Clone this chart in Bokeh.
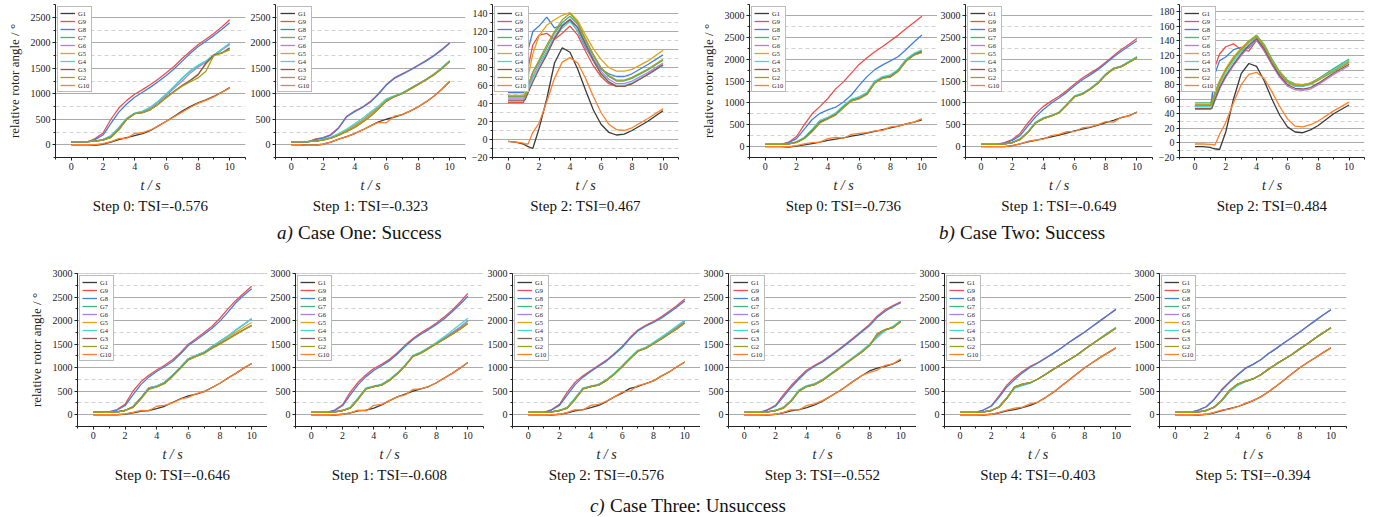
from bokeh.plotting import figure
from bokeh.layouts import row, column
from bokeh.models import SingleIntervalTicker, Legend, LegendItem, Title, Label, Range1d
from bokeh.embed import file_html
from bokeh.resources import INLINE

FONT = "Liberation Serif"

# ---------------- data ----------------
SERIES = ["G1", "G9", "G8", "G7", "G6", "G5", "G4", "G3", "G2", "G10"]
COLORS = ["#3a3a3a", "#f04c4c", "#3f7fe0", "#3cb878", "#b27ce8",
          "#e3a21a", "#42d9d0", "#8b5a4f", "#a0a020", "#ff7f2a"]

T = [0, 0.5, 1, 1.5, 2, 2.5, 3, 3.5, 4, 4.5, 5, 5.5, 6, 6.5, 7, 7.5, 8, 8.5, 9, 9.5, 10]
T_OSC = [0, 0.5, 1.0, 1.1, 1.3, 1.6, 2.0, 2.5, 3.0, 3.5, 4.0, 4.5, 5.0, 5.5, 6.0, 6.5, 7.0, 7.5, 8.0, 9.0, 10.0]

# Case One, Step 0
A0_G1 = [0, 0, 0, -10, 10, 50, 100, 140, 180, 220, 280, 370, 460, 560, 660, 750, 820, 880, 950, 1030, 1120]
A0_G9 = [50, 50, 50, 120, 230, 500, 720, 870, 990, 1080, 1180, 1290, 1410, 1540, 1690, 1830, 1960, 2070, 2180, 2310, 2450]
A0_G8 = [50, 50, 50, 100, 190, 420, 640, 800, 930, 1030, 1130, 1240, 1360, 1490, 1640, 1790, 1920, 2030, 2140, 2260, 2390]
A0_G7 = [60, 60, 60, 70, 100, 170, 330, 510, 610, 650, 730, 850, 990, 1140, 1300, 1440, 1550, 1640, 1760, 1870, 1980]
A0_G6 = [60, 60, 60, 70, 100, 170, 330, 510, 610, 650, 720, 840, 970, 1110, 1250, 1400, 1520, 1620, 1740, 1860, 1960]
A0_G5 = [60, 60, 60, 70, 90, 150, 300, 500, 610, 630, 690, 800, 930, 1050, 1160, 1260, 1380, 1580, 1750, 1790, 1880]
A0_G4 = [60, 60, 60, 70, 100, 180, 340, 520, 620, 660, 740, 860, 1000, 1150, 1310, 1450, 1560, 1640, 1760, 1870, 1990]
A0_G3 = [60, 60, 60, 70, 90, 150, 300, 500, 610, 630, 690, 800, 930, 1050, 1160, 1260, 1370, 1600, 1760, 1800, 1900]
A0_G2 = [60, 60, 60, 70, 90, 140, 290, 500, 610, 630, 690, 800, 920, 1040, 1150, 1230, 1310, 1440, 1750, 1800, 1860]
A0_G10 = [0, 0, 0, 0, 20, 60, 120, 130, 220, 240, 290, 370, 460, 550, 640, 730, 810, 870, 940, 1030, 1110]

# Case One, Step 1
A1_G1 = [0, 0, -10, -10, 10, 50, 110, 160, 220, 290, 370, 450, 500, 540, 590, 660, 740, 840, 950, 1090, 1240]
A1_G9 = [50, 50, 50, 110, 140, 200, 340, 560, 660, 740, 850, 1000, 1180, 1310, 1390, 1470, 1560, 1650, 1750, 1870, 2000]
A1_G8 = [50, 50, 50, 100, 130, 190, 330, 550, 650, 730, 840, 990, 1170, 1300, 1380, 1460, 1550, 1640, 1740, 1860, 1990]
A1_G7 = [60, 60, 60, 70, 100, 140, 200, 290, 380, 480, 610, 730, 880, 950, 1010, 1100, 1190, 1280, 1380, 1500, 1640]
A1_G6 = [60, 60, 60, 70, 100, 140, 200, 290, 380, 480, 610, 730, 880, 950, 1010, 1100, 1190, 1280, 1380, 1500, 1640]
A1_G5 = [60, 60, 60, 70, 100, 140, 200, 280, 370, 470, 600, 720, 870, 950, 1010, 1100, 1190, 1280, 1380, 1500, 1640]
A1_G4 = [60, 60, 60, 70, 100, 150, 220, 310, 410, 520, 640, 760, 900, 960, 1020, 1100, 1190, 1280, 1380, 1510, 1650]
A1_G3 = [60, 60, 60, 70, 90, 130, 190, 260, 340, 440, 560, 700, 850, 940, 1000, 1090, 1180, 1270, 1370, 1490, 1630]
A1_G2 = [60, 60, 60, 70, 90, 130, 190, 260, 340, 440, 560, 700, 860, 950, 1000, 1090, 1180, 1270, 1370, 1490, 1630]
A1_G10 = [0, 0, -10, -10, 10, 50, 110, 160, 220, 290, 370, 440, 430, 560, 590, 660, 740, 840, 950, 1090, 1250]

# Case One, Step 2 (sampled on T_OSC)
A2_G1 = [-2, -3, -5, -6, -8, -10, 12, 45, 85, 102, 97, 78, 55, 33, 17, 8, 5, 6, 10, 20, 32]
A2_G9 = [41, 41, 41, 48, 80, 105, 116, 118, 111, 118, 126, 116, 98, 82, 70, 62, 59, 59, 62, 72, 83]
A2_G8 = [52, 52, 52, 60, 100, 120, 126, 136, 124, 127, 133, 120, 102, 88, 78, 73, 70, 70, 73, 83, 94]
A2_G7 = [48, 48, 48, 49, 60, 74, 86, 102, 118, 130, 137, 128, 110, 93, 79, 70, 65, 65, 68, 77, 88]
A2_G6 = [45, 45, 45, 46, 56, 70, 83, 98, 114, 127, 134, 125, 107, 90, 76, 67, 62, 62, 65, 74, 85]
A2_G5 = [49, 49, 49, 52, 70, 95, 115, 127, 133, 138, 141, 132, 116, 101, 89, 80, 76, 76, 78, 87, 99]
A2_G4 = [44, 44, 44, 45, 55, 68, 80, 96, 112, 124, 131, 121, 104, 87, 73, 64, 60, 60, 63, 72, 82]
A2_G3 = [43, 43, 43, 44, 52, 64, 78, 94, 112, 126, 133, 124, 106, 88, 73, 64, 59, 59, 62, 72, 83]
A2_G2 = [47, 47, 47, 48, 60, 75, 88, 105, 120, 133, 140, 130, 112, 95, 80, 71, 66, 66, 69, 78, 89]
A2_G10 = [-2, -3, -4, -5, -5, 8, 18, 42, 68, 86, 91, 85, 68, 48, 30, 17, 11, 10, 13, 23, 34]

# Case Two, Step 0
B0_G1 = [0, 0, 0, -10, 10, 40, 70, 100, 140, 170, 200, 240, 270, 310, 350, 390, 430, 470, 520, 560, 610]
B0_G9 = [50, 50, 50, 100, 230, 500, 750, 920, 1100, 1320, 1480, 1680, 1880, 2030, 2170, 2290, 2420, 2550, 2700, 2840, 2980]
B0_G8 = [50, 50, 50, 90, 180, 400, 620, 760, 840, 900, 1020, 1180, 1400, 1600, 1760, 1870, 1960, 2060, 2220, 2390, 2550]
B0_G7 = [50, 50, 50, 60, 100, 200, 390, 590, 660, 760, 930, 1070, 1130, 1230, 1490, 1590, 1630, 1760, 1990, 2120, 2190]
B0_G6 = [50, 50, 50, 60, 100, 200, 380, 580, 650, 750, 920, 1060, 1115, 1215, 1480, 1580, 1615, 1750, 1980, 2100, 2160]
B0_G5 = [50, 50, 50, 60, 100, 190, 370, 570, 640, 740, 910, 1050, 1110, 1210, 1470, 1570, 1600, 1740, 1970, 2100, 2160]
B0_G4 = [50, 50, 50, 60, 110, 210, 400, 600, 670, 770, 940, 1080, 1140, 1240, 1500, 1600, 1640, 1770, 2000, 2130, 2210]
B0_G3 = [50, 50, 50, 60, 100, 190, 360, 560, 640, 730, 900, 1050, 1100, 1200, 1460, 1570, 1600, 1730, 1960, 2100, 2170]
B0_G2 = [50, 50, 50, 60, 90, 180, 340, 540, 630, 720, 890, 1040, 1090, 1190, 1450, 1560, 1590, 1720, 1950, 2090, 2150]
B0_G10 = [0, 0, 0, 0, 20, 60, 90, 100, 180, 210, 190, 280, 300, 320, 360, 370, 450, 470, 520, 560, 640]

# Case Two, Step 1
B1_G1 = [0, 0, 0, 0, 20, 60, 110, 140, 180, 220, 260, 310, 360, 400, 440, 490, 550, 600, 660, 710, 790]
B1_G9 = [50, 50, 50, 90, 160, 300, 540, 750, 920, 1040, 1150, 1280, 1430, 1570, 1680, 1790, 1930, 2080, 2220, 2340, 2470]
B1_G8 = [50, 50, 50, 80, 140, 250, 470, 680, 850, 990, 1110, 1240, 1390, 1530, 1640, 1760, 1900, 2050, 2180, 2300, 2420]
B1_G7 = [50, 50, 50, 60, 90, 170, 330, 550, 650, 700, 780, 960, 1150, 1210, 1320, 1460, 1650, 1790, 1840, 1940, 2050]
B1_G4 = [50, 50, 50, 60, 90, 180, 340, 560, 660, 710, 790, 970, 1160, 1220, 1330, 1470, 1660, 1790, 1840, 1950, 2060]
B1_G2 = [50, 50, 50, 60, 90, 160, 320, 540, 640, 700, 770, 950, 1140, 1200, 1310, 1450, 1640, 1780, 1830, 1930, 2030]
B1_G6 = B1_G7
B1_G5 = B1_G2
B1_G3 = B1_G2
B1_G10 = [0, 0, 0, 0, 20, 60, 120, 150, 170, 250, 280, 340, 340, 430, 450, 500, 570, 560, 670, 700, 790]

# Case Two, Step 2 (sampled on T_OSC)
B2_G1 = [-5, -5, -6, -7, -8, -9, 15, 60, 95, 109, 105, 85, 60, 38, 22, 15, 14, 18, 24, 40, 52]
B2_G9 = [52, 52, 52, 60, 105, 122, 132, 136, 128, 126, 141, 126, 108, 93, 83, 78, 78, 82, 88, 100, 112]
B2_G8 = [50, 50, 50, 60, 95, 113, 118, 128, 131, 130, 143, 127, 109, 94, 84, 79, 78, 81, 87, 100, 113]
B2_G7 = [55, 55, 55, 56, 70, 85, 100, 115, 128, 140, 148, 135, 115, 98, 86, 81, 80, 82, 88, 102, 115]
B2_G6 = [46, 46, 46, 47, 58, 74, 90, 106, 120, 132, 141, 127, 107, 90, 78, 73, 72, 74, 80, 94, 106]
B2_G5 = [53, 53, 53, 54, 68, 85, 102, 118, 130, 140, 147, 133, 113, 97, 85, 80, 80, 82, 87, 100, 112]
B2_G4 = [50, 50, 50, 51, 64, 80, 96, 112, 125, 137, 145, 131, 112, 95, 83, 78, 78, 80, 86, 100, 114]
B2_G3 = [47, 47, 47, 48, 60, 76, 92, 108, 122, 134, 143, 129, 109, 92, 80, 75, 74, 76, 82, 96, 108]
B2_G2 = [52, 52, 52, 53, 66, 83, 100, 116, 128, 139, 146, 132, 112, 96, 84, 79, 79, 81, 86, 98, 110]
B2_G10 = [-1.5, -1.5, -2, -2, -3, 12, 28, 55, 80, 94, 97, 88, 70, 50, 33, 23, 22, 25, 30, 44, 56]

# Case Three, Steps 0-5
C0_G1 = [0, 0, 0, 0, 15, 40, 70, 90, 130, 180, 260, 340, 400, 440, 490, 580, 670, 780, 880, 990, 1090]
C0_G9 = [60, 60, 60, 110, 220, 500, 700, 840, 950, 1050, 1170, 1320, 1500, 1620, 1750, 1880, 2050, 2250, 2430, 2580, 2730]
C0_G8 = [60, 60, 60, 100, 190, 420, 640, 800, 920, 1020, 1130, 1290, 1470, 1590, 1710, 1840, 1990, 2180, 2380, 2540, 2680]
C0_G7 = [50, 50, 50, 60, 90, 170, 360, 570, 610, 690, 840, 1010, 1190, 1260, 1330, 1450, 1560, 1670, 1800, 1920, 2040]
C0_G5 = [50, 50, 50, 60, 90, 160, 350, 560, 600, 680, 830, 1000, 1180, 1250, 1320, 1430, 1530, 1640, 1750, 1860, 1960]
C0_G3 = [50, 50, 50, 60, 90, 160, 340, 550, 590, 670, 820, 990, 1170, 1240, 1310, 1420, 1510, 1610, 1710, 1810, 1900]
C0_G2 = [50, 50, 50, 60, 90, 150, 330, 540, 590, 660, 810, 980, 1160, 1240, 1300, 1410, 1500, 1600, 1700, 1800, 1890]
C0_G6 = C0_G7
C0_G4 = C0_G7
C0_G10 = [0, 0, 0, 0, 20, 50, 90, 80, 180, 200, 250, 330, 370, 450, 490, 580, 670, 780, 880, 990, 1090]

C1_G1 = [0, 0, 0, -10, 10, 40, 80, 100, 140, 210, 300, 380, 440, 500, 550, 600, 680, 780, 880, 990, 1110]
C1_G9 = [50, 50, 50, 100, 210, 480, 690, 850, 980, 1070, 1180, 1320, 1480, 1620, 1740, 1840, 1950, 2080, 2220, 2390, 2580]
C1_G8 = [50, 50, 50, 90, 190, 420, 640, 810, 940, 1040, 1150, 1290, 1450, 1600, 1710, 1810, 1920, 2040, 2190, 2350, 2520]
C1_G7 = [50, 50, 50, 60, 90, 150, 350, 560, 600, 640, 740, 880, 1050, 1250, 1320, 1420, 1520, 1630, 1740, 1860, 1990]
C1_G4 = [50, 50, 50, 60, 90, 160, 360, 570, 610, 650, 750, 890, 1060, 1260, 1330, 1430, 1540, 1660, 1790, 1920, 2050]
C1_G2 = [50, 50, 50, 60, 90, 140, 330, 550, 600, 630, 730, 870, 1040, 1240, 1310, 1410, 1510, 1610, 1710, 1820, 1940]
C1_G6 = C1_G7
C1_G5 = C1_G2
C1_G3 = C1_G2
C1_G10 = [0, 0, 0, 0, 10, 40, 100, 80, 200, 220, 300, 380, 420, 540, 550, 600, 680, 780, 880, 990, 1110]

C2_G1 = [0, 0, 0, -10, 10, 40, 80, 110, 150, 200, 280, 380, 460, 560, 600, 660, 720, 820, 910, 1020, 1120]
C2_G9 = [50, 50, 50, 110, 220, 480, 690, 830, 940, 1050, 1160, 1300, 1450, 1640, 1800, 1900, 1980, 2080, 2200, 2320, 2460]
C2_G8 = [50, 50, 50, 100, 200, 420, 640, 800, 920, 1030, 1140, 1280, 1430, 1620, 1780, 1880, 1960, 2050, 2170, 2290, 2420]
C2_G7 = [50, 50, 50, 60, 90, 150, 350, 560, 600, 640, 740, 870, 1030, 1200, 1360, 1420, 1520, 1630, 1740, 1860, 1990]
C2_G4 = [50, 50, 50, 60, 90, 160, 360, 570, 610, 650, 750, 880, 1040, 1210, 1370, 1430, 1540, 1650, 1770, 1890, 2010]
C2_G2 = [50, 50, 50, 60, 90, 140, 330, 550, 600, 630, 730, 860, 1020, 1190, 1350, 1410, 1510, 1610, 1720, 1830, 1950]
C2_G6 = C2_G7
C2_G5 = C2_G2
C2_G3 = C2_G2
C2_G10 = [0, 0, 0, 0, 10, 50, 110, 100, 200, 220, 290, 380, 480, 500, 620, 660, 720, 820, 910, 1020, 1120]

C3_G1 = [0, 0, 0, -10, 10, 40, 80, 110, 150, 210, 290, 390, 490, 600, 720, 830, 930, 990, 1030, 1080, 1160]
C3_G9 = [50, 50, 50, 110, 200, 420, 620, 790, 950, 1050, 1140, 1260, 1380, 1510, 1640, 1780, 1920, 2100, 2230, 2320, 2400]
C3_G8 = [50, 50, 50, 100, 180, 380, 580, 760, 920, 1030, 1120, 1240, 1360, 1490, 1620, 1760, 1890, 2070, 2200, 2300, 2380]
C3_G7 = [50, 50, 50, 60, 90, 150, 300, 520, 610, 650, 740, 860, 980, 1100, 1220, 1340, 1480, 1680, 1800, 1860, 1990]
C3_G4 = [50, 50, 50, 60, 90, 160, 310, 530, 620, 660, 750, 870, 990, 1110, 1230, 1360, 1500, 1640, 1790, 1880, 2000]
C3_G2 = [50, 50, 50, 60, 90, 140, 290, 500, 600, 640, 730, 850, 970, 1090, 1210, 1330, 1470, 1720, 1810, 1850, 1980]
C3_G6 = C3_G7
C3_G5 = C3_G2
C3_G3 = C3_G2
C3_G10 = [0, 0, 0, 0, 10, 50, 110, 100, 200, 230, 300, 390, 490, 600, 720, 830, 900, 950, 1050, 1080, 1190]

C4_G1 = [0, 0, 0, -10, 10, 40, 80, 110, 150, 200, 270, 370, 480, 610, 740, 870, 1000, 1110, 1220, 1320, 1420]
C4_G9 = [50, 50, 50, 100, 190, 400, 630, 790, 920, 1030, 1110, 1210, 1310, 1420, 1540, 1650, 1760, 1880, 2000, 2120, 2240]
C4_G8 = [50, 50, 50, 100, 180, 370, 590, 750, 890, 1010, 1100, 1200, 1310, 1420, 1540, 1650, 1760, 1880, 2000, 2120, 2240]
C4_G7 = [50, 50, 50, 60, 90, 170, 360, 580, 640, 680, 760, 860, 970, 1070, 1170, 1270, 1390, 1510, 1620, 1740, 1850]
C4_G4 = [50, 50, 50, 60, 90, 170, 350, 560, 620, 670, 760, 860, 970, 1070, 1170, 1270, 1390, 1510, 1630, 1740, 1860]
C4_G2 = [50, 50, 50, 60, 90, 160, 350, 590, 650, 680, 760, 860, 970, 1070, 1170, 1270, 1390, 1510, 1620, 1730, 1840]
C4_G6 = C4_G7
C4_G5 = C4_G2
C4_G3 = C4_G2
C4_G10 = [0, 0, 0, 0, 10, 50, 100, 140, 160, 230, 270, 370, 480, 610, 740, 870, 1000, 1110, 1220, 1320, 1420]

C5_G1 = [0, 0, 0, -10, 10, 40, 90, 130, 170, 230, 300, 380, 490, 610, 740, 870, 1000, 1110, 1210, 1320, 1420]
C5_G9 = [50, 50, 50, 100, 170, 330, 540, 700, 850, 990, 1070, 1170, 1300, 1410, 1530, 1640, 1760, 1880, 2000, 2120, 2230]
C5_G8 = [50, 50, 50, 100, 170, 320, 520, 690, 840, 980, 1070, 1170, 1300, 1410, 1530, 1640, 1760, 1880, 2000, 2120, 2230]
C5_G7 = [50, 50, 50, 60, 90, 160, 300, 500, 640, 710, 760, 850, 970, 1080, 1180, 1280, 1400, 1510, 1630, 1740, 1850]
C5_G4 = [50, 50, 50, 60, 90, 150, 290, 490, 620, 700, 760, 850, 970, 1080, 1180, 1280, 1400, 1510, 1630, 1740, 1850]
C5_G2 = [50, 50, 50, 60, 90, 160, 310, 520, 650, 710, 760, 850, 970, 1080, 1180, 1280, 1400, 1510, 1630, 1740, 1850]
C5_G6 = C5_G7
C5_G5 = C5_G2
C5_G3 = C5_G2
C5_G10 = [0, 0, 0, 0, 10, 50, 100, 120, 170, 240, 300, 380, 490, 610, 740, 870, 1000, 1110, 1210, 1320, 1420]

TITLES_A = ["Step 0: TSI=-0.576", "Step 1: TSI=-0.323", "Step 2: TSI=0.467"]
TITLES_B = ["Step 0: TSI=-0.736", "Step 1: TSI=-0.649", "Step 2: TSI=0.484"]
TITLES_C = ["Step 0: TSI=-0.646", "Step 1: TSI=-0.608", "Step 2: TSI=-0.576",
            "Step 3: TSI=-0.552", "Step 4: TSI=-0.403", "Step 5: TSI=-0.394"]
CAPTION_TAGS = ["a)", "b)", "c)"]
CAPTION_TEXTS = ["Case One: Success", "Case Two: Success", "Case Three: Unsuccess"]
YLABEL = "relative rotor angle / \u00b0"
XLABEL = "t / s"


def pack(prefix):
    g = globals()
    return [g[prefix + "_" + s] for s in SERIES]


def panel(t, ys, yr, ytick, title, width, height, left, right, top, bottom, ylabel=None):
    p = figure(width=width, height=height, x_range=Range1d(-1, 11), y_range=Range1d(*yr),
               output_backend="svg", toolbar_location=None,
               min_border_left=left, min_border_right=right,
               min_border_top=top, min_border_bottom=bottom)
    p.outline_line_color = None
    items = []
    for name, col, y in zip(SERIES, COLORS, ys):
        r = p.line(t, y, line_color=col, line_width=1.3)
        items.append(LegendItem(label=name, renderers=[r]))
    leg = Legend(items=items, location="top_left", margin=2, padding=2, spacing=0,
                 glyph_width=15, glyph_height=8, label_height=8, label_width=8,
                 label_standoff=3, label_text_font=FONT, label_text_font_size="6.5px",
                 label_text_color="#222", border_line_color="#777", border_line_width=0.8,
                 background_fill_alpha=1.0)
    p.add_layout(leg)
    p.xaxis.ticker = SingleIntervalTicker(interval=2, num_minor_ticks=2)
    p.yaxis.ticker = SingleIntervalTicker(interval=ytick, num_minor_ticks=2)
    p.xgrid.visible = False
    p.ygrid.grid_line_color = "#ababab"
    p.ygrid.grid_line_width = 1
    p.ygrid.minor_grid_line_color = "#d2d2d2"
    p.ygrid.minor_grid_line_dash = "4 3"
    for ax in (p.xaxis[0], p.yaxis[0]):
        ax.axis_line_color = "#222"
        ax.major_tick_line_color = "#222"
        ax.minor_tick_line_color = "#222"
        ax.major_tick_in = 0
        ax.major_tick_out = 3
        ax.minor_tick_in = 0
        ax.minor_tick_out = 2
        ax.major_label_standoff = 2
        ax.major_label_text_font = FONT
        ax.major_label_text_font_size = "10px"
        ax.major_label_text_color = "#222"
        ax.axis_label_text_font = FONT
        ax.axis_label_text_color = "#222"
    p.xaxis.axis_label = XLABEL
    p.xaxis.axis_label_text_font_style = "italic"
    p.xaxis.axis_label_text_font_size = "14px"
    p.xaxis.axis_label_standoff = 5
    if ylabel:
        p.yaxis.axis_label = ylabel
        p.yaxis.axis_label_text_font_style = "normal"
        p.yaxis.axis_label_text_font_size = "13px"
        p.yaxis.axis_label_standoff = 6
    p.add_layout(Title(text=title, align="center", text_font=FONT, text_font_size="15px",
                       text_font_style="normal", text_color="#111", standoff=1), "below")
    return p


def caption(width, height, parts, size=19):
    c = figure(width=width, height=height, x_range=Range1d(0, width), y_range=Range1d(0, height),
               output_backend="svg", toolbar_location=None, x_axis_type=None, y_axis_type=None,
               min_border=0)
    c.outline_line_color = None
    c.xgrid.visible = False
    c.ygrid.visible = False
    for center, tag, rest, y in parts:
        w_tag = 0.8 * size
        gap = 0.28 * size
        w_rest = 0.45 * size * len(rest)
        x0 = center - (w_tag + gap + w_rest) / 2 + w_tag
        c.add_layout(Label(x=x0, y=y, text=tag, text_align="right", text_baseline="middle",
                           text_font=FONT, text_font_size=f"{size}px", text_font_style="italic",
                           text_color="#111"))
        c.add_layout(Label(x=x0 + gap, y=y, text=rest, text_align="left", text_baseline="middle",
                           text_font=FONT, text_font_size=f"{size}px", text_color="#111"))
    return c


HT, HB = 218, 240
top_specs = [
    (T, "A0", (-250, 2750), 500, TITLES_A[0], 247, 55, 2, YLABEL),
    (T, "A1", (-250, 2750), 500, TITLES_A[1], 221, 28, 3, None),
    (T_OSC, "A2", (-20, 150), 20, TITLES_A[2], 222, 21, 12, None),
    (T, "B0", (-250, 3250), 500, TITLES_B[0], 247, 59, 0, YLABEL),
    (T, "B1", (-250, 3250), 500, TITLES_B[1], 218, 25, 3, None),
    (T_OSC, "B2", (-20, 190), 20, TITLES_B[2], 220, 20, 11, None),
]
top = [panel(t, pack(k), yr, yt, ti, w, HT, l, r, 4, 61, yl)
       for (t, k, yr, yt, ti, w, l, r, yl) in top_specs]

bot_specs = [
    ("C0", 267, 77, 0, YLABEL), ("C1", 217, 26, 1, None), ("C2", 216, 26, 0, None),
    ("C3", 216, 26, 0, None), ("C4", 215, 25, 0, None), ("C5", 244, 25, 29, None),
]
bot = [panel(T, pack(k), (-250, 3002), 500, TITLES_C[i], w, HB, l, r, 23, 64, yl)
       for i, (k, w, l, r, yl) in enumerate(bot_specs)]

cap_ab = caption(1375, 32, [(360, CAPTION_TAGS[0], CAPTION_TEXTS[0], 18),
                            (1022, CAPTION_TAGS[1], CAPTION_TEXTS[1], 18)])
cap_c = caption(1375, 27, [(689, CAPTION_TAGS[2], CAPTION_TEXTS[2], 12)])

layout = column(row(*top), cap_ab, row(*bot), cap_c)
open("out.html", "w").write(file_html(layout, INLINE))
